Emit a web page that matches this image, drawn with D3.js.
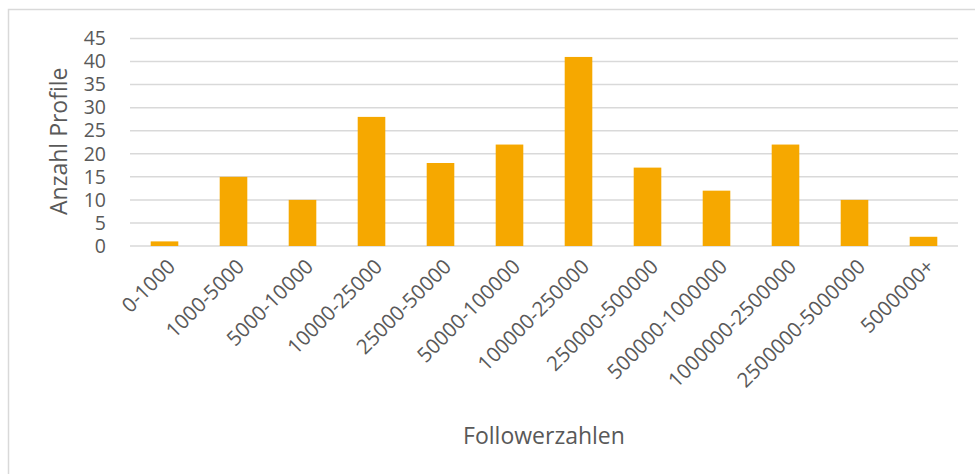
<!DOCTYPE html>
<html>
<head>
<meta charset="utf-8">
<script src="https://cdn.jsdelivr.net/npm/d3@7"></script>
<style>
  body { margin: 0; background: #fff; }
  text { font-family: "Open Sans", "Liberation Sans", sans-serif; fill: #595959; }
</style>
</head>
<body>
<div id="chart"></div>
<script>
// data
const categories = ["0-1000", "1000-5000", "5000-10000", "10000-25000", "25000-50000",
  "50000-100000", "100000-250000", "250000-500000", "500000-1000000",
  "1000000-2500000", "2500000-5000000", "5000000+"];
const profileCounts = [1, 15, 10, 28, 18, 22, 41, 17, 12, 22, 10, 2];
const yTicks = [0, 5, 10, 15, 20, 25, 30, 35, 40, 45];

const svgWidth = 975;
const svgHeight = 474;
const margin = { top: 38.5, right: 17, bottom: 228, left: 130 };
const width = svgWidth - margin.left - margin.right;
const height = svgHeight - margin.top - margin.bottom;

const svg = d3.select("#chart").append("svg")
    .attr("width", svgWidth)
    .attr("height", svgHeight);

// outer chart frame
svg.append("rect")
    .attr("x", 8.5).attr("y", 9.5)
    .attr("width", 990).attr("height", 500)
    .attr("fill", "none")
    .attr("stroke", "#d9d9d9")
    .attr("stroke-width", 1.5);

const g = svg.append("g")
    .attr("transform", `translate(${margin.left},${margin.top})`);

const xScale = d3.scaleBand()
    .domain(categories)
    .range([0, width])
    .paddingInner(0.6)
    .paddingOuter(0.3);

const yScale = d3.scaleLinear()
    .domain([0, 45])
    .range([height, 0]);

// gridlines
g.append("g")
    .selectAll("line")
    .data(yTicks)
    .enter()
    .append("line")
    .attr("x1", 0)
    .attr("x2", width)
    .attr("y1", d => yScale(d))
    .attr("y2", d => yScale(d))
    .attr("stroke", "#d9d9d9")
    .attr("stroke-width", 1.5);

// y axis labels
const yAxis = g.append("g")
    .call(d3.axisLeft(yScale).tickValues(yTicks).tickSize(0).tickPadding(24));
yAxis.select(".domain").remove();
yAxis.selectAll("text")
    .style("font-size", "19.5px")
    .attr("fill", "#595959");

// bars
g.selectAll("rect.bar")
    .data(profileCounts)
    .enter()
    .append("rect")
    .attr("class", "bar")
    .attr("x", (d, i) => xScale(categories[i]))
    .attr("width", xScale.bandwidth())
    .attr("y", d => yScale(d))
    .attr("height", d => height - yScale(d))
    .attr("fill", "#f6a800");

// x axis labels, rotated
const xAxis = g.append("g")
    .attr("transform", `translate(0,${height})`)
    .call(d3.axisBottom(xScale).tickSize(0).tickPadding(0));
xAxis.select(".domain").remove();
xAxis.selectAll("text")
    .style("font-size", "20.5px")
    .attr("fill", "#595959")
    .attr("text-anchor", "end")
    .attr("dy", "0")
    .attr("transform", "translate(12,22) rotate(-45)");

// axis titles
g.append("text")
    .attr("transform", "rotate(-90)")
    .attr("x", -height / 2 + 1)
    .attr("y", -63)
    .attr("text-anchor", "middle")
    .style("font-size", "23px")
    .text("Anzahl Profile");

g.append("text")
    .attr("x", width / 2)
    .attr("y", height + 198)
    .attr("text-anchor", "middle")
    .style("font-size", "23px")
    .text("Followerzahlen");
</script>
</body>
</html>
